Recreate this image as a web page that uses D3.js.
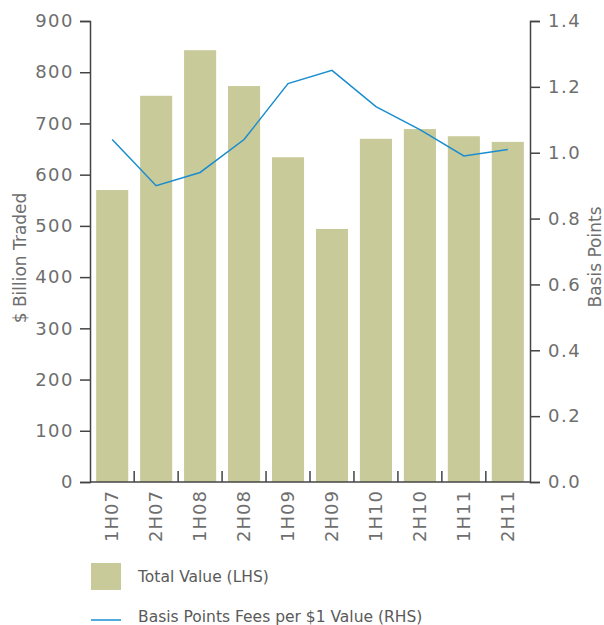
<!DOCTYPE html>
<html>
<head>
<meta charset="utf-8">
<script src="https://cdn.jsdelivr.net/npm/d3@7"></script>
<style>
  body { margin: 0; background: #fff; }
  text { font-family: "DejaVu Sans", sans-serif; fill: #6e6e6e; }
  .axis path, .axis line { stroke: #444; stroke-width: 1.5; }
  .legend text { fill: #5a5a5a; }
</style>
</head>
<body>
<div id="chart"></div>
<script>
// data
const periods = ["1H07", "2H07", "1H08", "2H08", "1H09", "2H09", "1H10", "2H10", "1H11", "2H11"];
const totalValue = [570, 754, 843, 773, 634, 494, 670, 689, 675, 664];
const basisPoints = [1.04, 0.90, 0.94, 1.04, 1.21, 1.25, 1.14, 1.07, 0.99, 1.01];
const leftTicks = [0, 100, 200, 300, 400, 500, 600, 700, 800, 900];
const rightTicks = [0, 0.2, 0.4, 0.6, 0.8, 1.0, 1.2, 1.4];

// svg size
const width = 604;
const height = 625;

const margin = { top: 21, right: 74, bottom: 143, left: 90 };
const chartWidth = width - margin.left - margin.right;
const chartHeight = height - margin.top - margin.bottom;

const svg = d3.select("#chart").append("svg")
    .attr("width", width)
    .attr("height", height);

const chartGroup = svg.append("g")
    .attr("transform", `translate(${margin.left}, ${margin.top})`);

// scales
const x = d3.scaleBand()
    .domain(periods)
    .range([0, chartWidth])
    .paddingInner(0.27)
    .paddingOuter(0.14);

const yLeft = d3.scaleLinear().domain([0, 900]).range([chartHeight, 0]);
const yRight = d3.scaleLinear().domain([0, 1.4]).range([chartHeight, 0]);

// bars
chartGroup.selectAll("rect.bar")
    .data(periods)
    .enter()
    .append("rect")
    .attr("class", "bar")
    .attr("x", d => x(d))
    .attr("width", x.bandwidth())
    .attr("y", (d, i) => yLeft(totalValue[i]))
    .attr("height", (d, i) => chartHeight - yLeft(totalValue[i]))
    .attr("fill", "#c8ca9a");

// line
const line = d3.line()
    .x((d, i) => x(periods[i]) + x.bandwidth() / 2)
    .y(d => yRight(d));

chartGroup.append("path")
    .datum(basisPoints)
    .attr("d", line)
    .attr("fill", "none")
    .attr("stroke", "#1a8dcf")
    .attr("stroke-width", 1.5);

// tick label style
function styleTicks(sel) {
    sel.selectAll("text")
        .style("font-size", "18px")
        .style("letter-spacing", "1.5px");
}

// left axis
const leftAxis = chartGroup.append("g")
    .attr("class", "axis")
    .call(d3.axisLeft(yLeft).tickValues(leftTicks).tickSize(10).tickPadding(6).tickFormat(d3.format("d")));
styleTicks(leftAxis);

// right axis
const rightAxis = chartGroup.append("g")
    .attr("class", "axis")
    .attr("transform", `translate(${chartWidth}, 0)`)
    .call(d3.axisRight(yRight).tickValues(rightTicks).tickSize(10).tickPadding(8).tickFormat(d3.format(".1f")));
styleTicks(rightAxis);

// bottom axis: ticks between bands, pointing up
const bottomAxis = chartGroup.append("g")
    .attr("class", "axis")
    .attr("transform", `translate(0, ${chartHeight})`);
bottomAxis.append("line")
    .attr("x1", 0).attr("x2", chartWidth)
    .attr("y1", 0).attr("y2", 0);
bottomAxis.selectAll("line.sep")
    .data(periods.slice(1))
    .enter()
    .append("line")
    .attr("class", "sep")
    .attr("x1", d => x(d) - x.step() * x.paddingInner() / 2)
    .attr("x2", d => x(d) - x.step() * x.paddingInner() / 2)
    .attr("y1", 0).attr("y2", -11);
bottomAxis.selectAll("text")
    .data(periods)
    .enter()
    .append("text")
    .attr("transform", d => `translate(${x(d) + x.bandwidth() / 2 + 6}, 8) rotate(-90)`)
    .attr("text-anchor", "end")
    .style("font-size", "18px")
    .style("letter-spacing", "1px")
    .text(d => d);

// axis titles
svg.append("text")
    .attr("transform", `translate(26, 258) rotate(-90)`)
    .attr("text-anchor", "middle")
    .style("font-size", "17px")
    .text("$ Billion Traded");

svg.append("text")
    .attr("transform", `translate(601, 257) rotate(-90)`)
    .attr("text-anchor", "middle")
    .style("font-size", "17px")
    .text("Basis Points");

// legend
const legend = svg.append("g").attr("class", "legend");
legend.append("rect")
    .attr("x", 91).attr("y", 563)
    .attr("width", 30).attr("height", 27)
    .attr("fill", "#c8ca9a");
legend.append("text")
    .attr("x", 138).attr("y", 582)
    .style("font-size", "15.5px")
    .text("Total Value (LHS)");
legend.append("line")
    .attr("x1", 91).attr("x2", 121)
    .attr("y1", 620).attr("y2", 620)
    .attr("stroke", "#1a8dcf")
    .attr("stroke-width", 1.5);
legend.append("text")
    .attr("x", 138).attr("y", 622)
    .style("font-size", "15.5px")
    .text("Basis Points Fees per $1 Value (RHS)");
</script>
</body>
</html>
